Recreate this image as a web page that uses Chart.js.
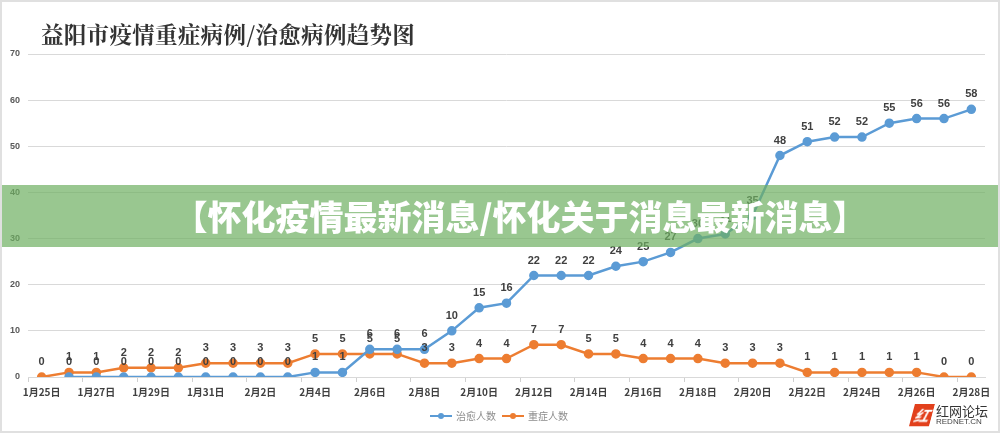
<!DOCTYPE html>
<html>
<head>
<meta charset="utf-8">
<script src="https://cdn.jsdelivr.net/npm/chart.js@4.4.1/dist/chart.umd.min.js"></script>
<style>
  html, body { margin: 0; padding: 0; background: #fff; }
  #wrap { position: relative; width: 1000px; height: 433px; box-sizing: border-box; border: 2px solid #e0e0e0; overflow: hidden; }
  #chart-box { position: absolute; left: -2px; top: -2px; width: 1000px; height: 433px; }
  #titulo { position: absolute; left: 39px; top: 15px; font: bold 22.5px "Noto Serif CJK SC", "Noto Sans CJK SC", serif; color: #333; letter-spacing: 0.3px; }
  #faixa { position: absolute; left: 0; top: 183px; width: 1000px; height: 62px; box-sizing: border-box; padding-left: 36px; background: rgba(110, 175, 97, 0.7);
           color: #fff; font: 900 34px "Noto Sans CJK SC", sans-serif; text-align: center; line-height: 62px; }
  #legenda { position: absolute; top: 406px; left: 428px; font: 10px "Noto Sans CJK SC", sans-serif; color: #8c8c8c; display: flex; align-items: center; }
  .item { display: flex; align-items: center; margin-right: 6px; }
  .marca { position: relative; width: 22px; height: 2px; margin-right: 4px; }
  .marca::after { content: ""; position: absolute; left: 8px; top: -2px; width: 6px; height: 6px; border-radius: 50%; background: inherit; }
  #marca-rede { position: absolute; right: 10px; bottom: 5px; display: flex; align-items: center; }
  #logo { width: 20px; height: 22px; background: #e2401c; transform: skewX(-15deg); margin-right: 4px; color: #fff; font: bold italic 15px "Noto Sans CJK SC"; text-align: center; line-height: 22px; }
  #marca-rede .txt { font: 13px "Noto Sans CJK SC", sans-serif; color: #333; line-height: 13px; }
  #marca-rede .txt small { display: block; font: 8px "Liberation Sans", sans-serif; color: #444; }
</style>
</head>
<body>
<div id="wrap">
  <div id="chart-box"><canvas id="grafico"></canvas></div>
  <div id="titulo">益阳市疫情重症病例/治愈病例趋势图</div>
  <div id="faixa">【怀化疫情最新消息/怀化关于消息最新消息】</div>
  <div id="legenda">
    <div class="item"><span class="marca" style="background:#5b9bd5"></span>治愈人数</div>
    <div class="item"><span class="marca" style="background:#ed7d31"></span>重症人数</div>
  </div>
  <div id="marca-rede">
    <div id="logo">红</div>
    <div class="txt">红网论坛<small>REDNET.CN</small></div>
  </div>
</div>
<script>
const datas = [
  "1月25日", "1月26日", "1月27日", "1月28日", "1月29日", "1月30日", "1月31日",
  "2月1日", "2月2日", "2月3日", "2月4日", "2月5日", "2月6日", "2月7日", "2月8日",
  "2月9日", "2月10日", "2月11日", "2月12日", "2月13日", "2月14日", "2月15日", "2月16日",
  "2月17日", "2月18日", "2月19日", "2月20日", "2月21日", "2月22日", "2月23日", "2月24日",
  "2月25日", "2月26日", "2月27日", "2月28日"
];
const curados = [null, 0, 0, 0, 0, 0, 0, 0, 0, 0, 1, 1, 6, 6, 6, 10, 15, 16, 22, 22, 22, 24, 25, 27, 30, 31, 35, 48, 51, 52, 52, 55, 56, 56, 58];
const graves = [0, 1, 1, 2, 2, 2, 3, 3, 3, 3, 5, 5, 5, 5, 3, 3, 4, 4, 7, 7, 5, 5, 4, 4, 4, 3, 3, 3, 1, 1, 1, 1, 1, 0, 0];
const ticksY = [0, 10, 20, 30, 40, 50, 60, 70];

const AZUL = "#5b9bd5";
const LARANJA = "#ed7d31";

// rótulos de valor em cima de cada ponto
const rotulos = {
  id: "rotulos",
  afterDatasetsDraw(chart) {
    const ctx = chart.ctx;
    ctx.save();
    ctx.font = "bold 11px 'Liberation Sans', sans-serif";
    ctx.fillStyle = "#404040";
    ctx.textAlign = "center";
    ctx.textBaseline = "middle";
    chart.data.datasets.forEach((ds, i) => {
      chart.getDatasetMeta(i).data.forEach((pt, j) => {
        if (ds.data[j] === null) return;
        ctx.fillText(ds.data[j], pt.x, pt.y - 15);
      });
    });
    ctx.restore();
  }
};

new Chart(document.getElementById("grafico"), {
  type: "line",
  data: {
    labels: datas,
    datasets: [
      { label: "治愈人数", data: curados, borderColor: AZUL, backgroundColor: AZUL, borderWidth: 2.5, pointRadius: 3.5, pointHoverRadius: 3.5, tension: 0 },
      { label: "重症人数", data: graves, borderColor: LARANJA, backgroundColor: LARANJA, borderWidth: 2.5, pointRadius: 3.5, pointHoverRadius: 3.5, tension: 0 }
    ]
  },
  options: {
    responsive: true,
    maintainAspectRatio: false,
    animation: false,
    layout: { padding: { left: 0, right: 15, top: 54, bottom: 31 } },
    plugins: { legend: { display: false }, tooltip: { enabled: false } },
    scales: {
      x: {
        offset: true,
        border: { color: "#d9d9d9" },
        grid: {
          offset: true,
          drawOnChartArea: false,
          tickLength: 5,
          color: c => (c.index % 2 === 0 ? "#d0d0d0" : "rgba(0,0,0,0)")
        },
        ticks: {
          autoSkip: false,
          maxRotation: 0,
          padding: 4,
          color: "#404040",
          font: { size: 10, weight: "bold", family: "'Noto Sans CJK SC', sans-serif" },
          callback: (v, i) => (i % 2 === 0 ? datas[i] : "")
        }
      },
      y: {
        min: 0,
        max: 70,
        afterFit: s => { s.width = 28; },
        afterBuildTicks: s => { s.ticks = ticksY.map(v => ({ value: v })); },
        border: { display: false },
        grid: { color: "#d9d9d9", tickLength: 0 },
        ticks: {
          padding: 8,
          color: "#595959",
          font: { size: 9, weight: "bold", family: "'Liberation Sans', sans-serif" }
        }
      }
    }
  },
  plugins: [rotulos]
});
</script>
</body>
</html>
